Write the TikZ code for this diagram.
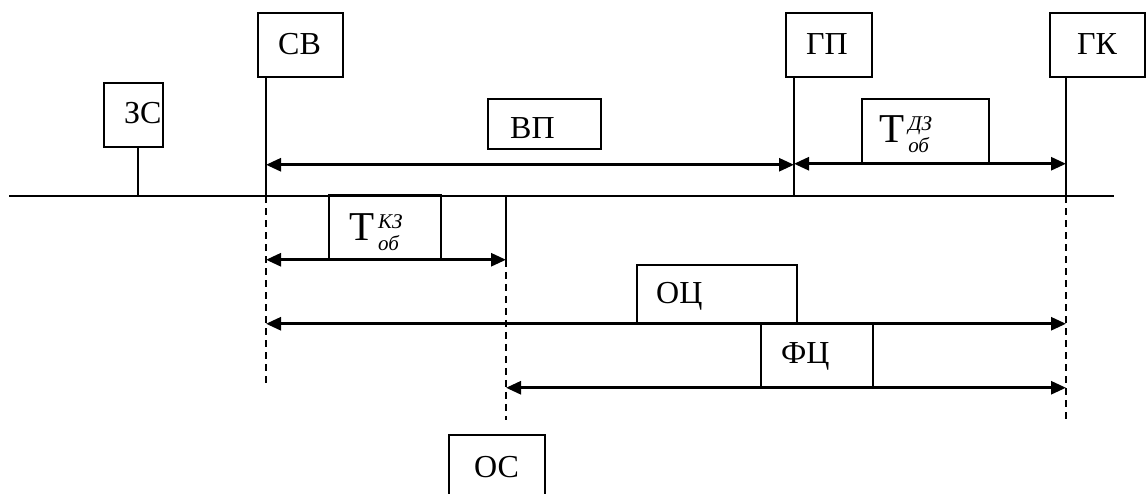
\documentclass[tikz,border=0pt]{standalone}
\usepackage{fontspec}
\setmainfont{Liberation Serif}
\usetikzlibrary{arrows.meta}

% time symbol with upper and lower italic indices
\newcommand\Tidx[2]{{\fontsize{41}{41}\selectfont Т}\kern4pt%
  \rlap{\raisebox{12pt}{\fontsize{21}{21}\selectfont\itshape #1}}%
  \raisebox{-10pt}{\fontsize{21}{21}\selectfont\itshape #2}}

\begin{document}
\begin{tikzpicture}[x=1pt,y=-1pt,
  box/.style={draw,line width=1.5pt,inner sep=0pt},
  lbl/.style={anchor=base west,inner sep=0pt,font=\fontsize{32}{36}\selectfont},
  axis/.style={line width=2pt},
  stem/.style={line width=2pt},
  guide/.style={line width=2pt,dash pattern=on 7pt off 5pt},
  span/.style={line width=2.8pt,{Triangle[length=15pt,width=13pt]}-{Triangle[length=15pt,width=13pt]}}]
\useasboundingbox (0,0) rectangle (1146,493);
\clip (0,0) rectangle (1146,493);

% boxes
\node[box,minimum width=59pt,minimum height=64pt]  (zs)  at (133.5,115) {};
\node[box,minimum width=85pt,minimum height=64pt]  (sv)  at (300.5,45) {};
\node[box,minimum width=113pt,minimum height=50pt] (vp)  at (544.5,124) {};
\node[box,minimum width=86pt,minimum height=64pt]  (gp)  at (829,45) {};
\node[box,minimum width=95pt,minimum height=64pt]  (gk)  at (1097.5,45) {};
\node[box,minimum width=127pt,minimum height=64pt] (tdz) at (925.5,131) {};
\node[box,minimum width=112pt,minimum height=64pt] (tkz) at (385,227) {};
\node[box,minimum width=160pt,minimum height=58pt] (oc)  at (717,294) {};
\node[box,minimum width=112pt,minimum height=64pt] (fc)  at (817,355) {};
\node[box,minimum width=96pt,minimum height=70pt]  (os)  at (497,470) {};

% labels
\node[lbl] (zsl) at (124,123) {ЗС};
\node[lbl] (svl) at (278,54) {СВ};
\node[lbl] (vpl) at (510,138) {ВП};
\node[lbl] (gpl) at (806,54) {ГП};
\node[lbl] (gkl) at (1077,54) {ГК};
\node[lbl] (ocl) at (656,303) {ОЦ};
\node[lbl] (fcl) at (781,363) {ФЦ};
\node[lbl] (osl) at (474,477) {ОС};
\node[anchor=base west,inner sep=0pt] (tdzl) at (879,142) {\Tidx{ДЗ}{об}};
\node[anchor=base west,inner sep=0pt] (tkzl) at (349,240) {\Tidx{КЗ}{об}};

% points on the axis
\coordinate (a0)  at (9,196);
\coordinate (a1)  at (1114,196);
\coordinate (tzs) at (138,196);
\coordinate (tsv) at (266,196);
\coordinate (tos) at (506,196);
\coordinate (tgp) at (794,196);
\coordinate (tgk) at (1066,196);
\coordinate (esv) at (266,383);
\coordinate (eos) at (506,420);
\coordinate (egk) at (1066,422);

\draw[axis] (a0) -- (a1);

% event stems
\draw[stem] (tzs |- zs.south) -- (tzs);
\draw[stem] (tsv |- sv.south) -- (tsv);
\draw[stem] (tgp |- gp.south) -- (tgp);
\draw[stem] (tgk |- gk.south) -- (tgk);
\draw[stem] (tos) -- (tos |- tkz.south);

% dashed guides
\draw[guide] (tsv) -- (esv);
\draw[guide] (tos |- tkz.south) -- (eos);
\draw[guide] (tgk) -- (egk);

% intervals
\draw[span] (tsv |- vp.south) ++(0,15) coordinate (vpa) -- (vpa -| tgp);
\draw[span] (tgp |- tdz.south) -- (tgk |- tdz.south);
\draw[span] (tsv |- tkz.south) -- (tos |- tkz.south);
\draw[span] (tsv |- oc.south) -- (tgk |- oc.south);
\draw[span] (tos |- fc.south) -- (tgk |- fc.south);
\end{tikzpicture}
\end{document}
